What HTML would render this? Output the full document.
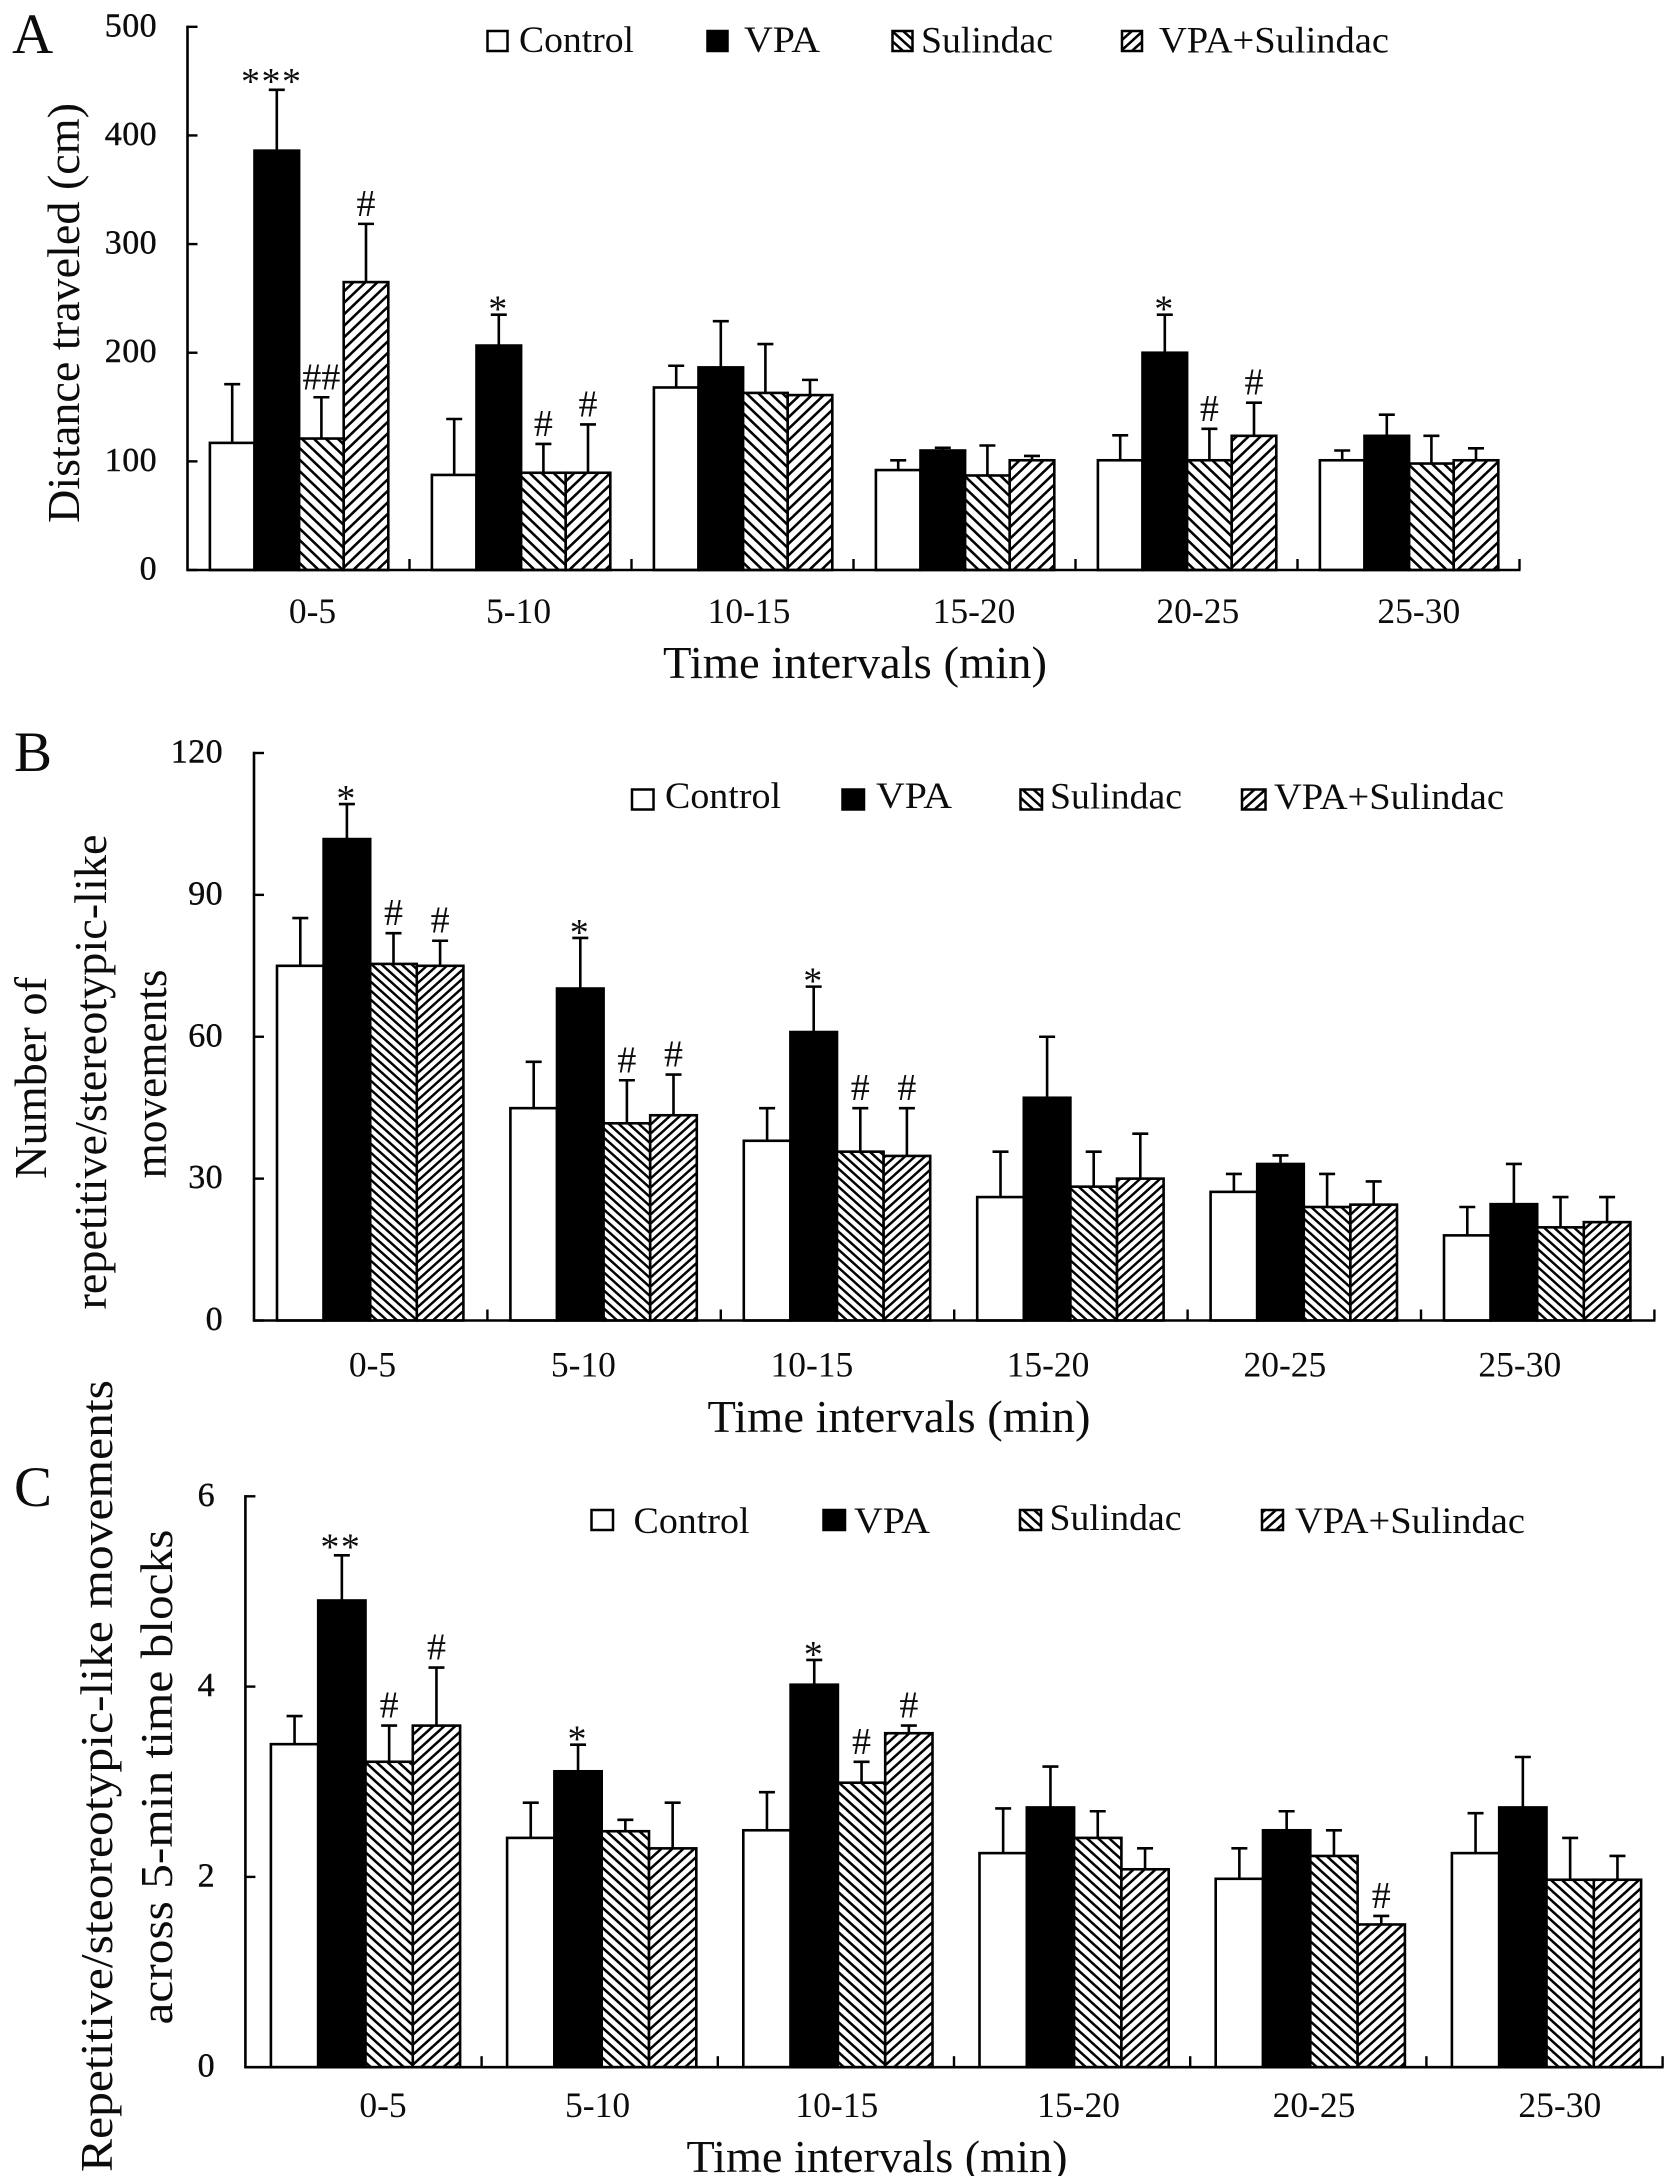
<!DOCTYPE html>
<html lang="en">
<head>
<meta charset="utf-8">
<title>Distance traveled and repetitive movements across time intervals</title>
<style>
  html, body { margin: 0; padding: 0; background: #fff; }
  svg { display: block; }
  text { font-family: "Liberation Serif", "Times New Roman", serif; fill: #0c0c0c; }
</style>
</head>
<body>
<svg id="figure" xmlns="http://www.w3.org/2000/svg" width="1677" height="2176" viewBox="0 0 1677 2176">
  <defs>
    <pattern id="sulA" patternUnits="userSpaceOnUse" width="12" height="11.5"><rect width="12" height="11.5" fill="#fff"/><path d="M-3,-2.875 L15,14.375 M-15,-2.875 L3,14.375 M9,-2.875 L27,14.375" stroke="#000" stroke-width="2.6"/></pattern>
    <pattern id="comA" patternUnits="userSpaceOnUse" width="12" height="11.5"><rect width="12" height="11.5" fill="#fff"/><path d="M-3,14.375 L15,-2.875 M-15,14.375 L3,-2.875 M9,14.375 L27,-2.875" stroke="#000" stroke-width="2.6"/></pattern>
    <pattern id="sulB" patternUnits="userSpaceOnUse" width="10" height="9"><rect width="10" height="9" fill="#fff"/><path d="M-2.5,-2.25 L12.5,11.25 M-12.5,-2.25 L2.5,11.25 M7.5,-2.25 L22.5,11.25" stroke="#000" stroke-width="2.5"/></pattern>
    <pattern id="comB" patternUnits="userSpaceOnUse" width="10" height="9"><rect width="10" height="9" fill="#fff"/><path d="M-2.5,11.25 L12.5,-2.25 M-12.5,11.25 L2.5,-2.25 M7.5,11.25 L22.5,-2.25" stroke="#000" stroke-width="2.5"/></pattern>
    <pattern id="sulC" patternUnits="userSpaceOnUse" width="11" height="10"><rect width="11" height="10" fill="#fff"/><path d="M-2.75,-2.5 L13.75,12.5 M-13.75,-2.5 L2.75,12.5 M8.25,-2.5 L24.75,12.5" stroke="#000" stroke-width="2.5"/></pattern>
    <pattern id="comC" patternUnits="userSpaceOnUse" width="11" height="10"><rect width="11" height="10" fill="#fff"/><path d="M-2.75,12.5 L13.75,-2.5 M-13.75,12.5 L2.75,-2.5 M8.25,12.5 L24.75,-2.5" stroke="#000" stroke-width="2.5"/></pattern>
  </defs>

  <g id="panel-a"></g>
  <g id="panel-b"></g>
  <g id="panel-c"></g>

  <!-- Panel letters -->
  <text x="12" y="53" font-size="57">A</text>
  <text x="14" y="771" font-size="57">B</text>
  <text x="14" y="1506" font-size="57">C</text>

  <!-- Y axis titles -->
  <text transform="translate(79,313) rotate(-90)" text-anchor="middle" font-size="46" textLength="420" lengthAdjust="spacingAndGlyphs">Distance traveled (cm)</text>
  <text transform="translate(46,1078) rotate(-90)" text-anchor="middle" font-size="46" textLength="202" lengthAdjust="spacingAndGlyphs">Number of</text>
  <text transform="translate(106,1072) rotate(-90)" text-anchor="middle" font-size="46" textLength="475" lengthAdjust="spacingAndGlyphs">repetitive/stereotypic-like</text>
  <text transform="translate(166,1074) rotate(-90)" text-anchor="middle" font-size="46" textLength="209" lengthAdjust="spacingAndGlyphs">movements</text>
  <text transform="translate(112,1776) rotate(-90)" text-anchor="middle" font-size="46" textLength="792" lengthAdjust="spacingAndGlyphs">Repetitive/steoreotypic-like movements</text>
  <text transform="translate(172,1777) rotate(-90)" text-anchor="middle" font-size="46" textLength="495" lengthAdjust="spacingAndGlyphs">across 5-min time blocks</text>

  <!-- X axis titles -->
  <text x="855" y="678" text-anchor="middle" font-size="46" textLength="384" lengthAdjust="spacingAndGlyphs">Time intervals (min)</text>
  <text x="899" y="1432" text-anchor="middle" font-size="46" textLength="383" lengthAdjust="spacingAndGlyphs">Time intervals (min)</text>
  <text x="877" y="2172" text-anchor="middle" font-size="46" textLength="381" lengthAdjust="spacingAndGlyphs">Time intervals (min)</text>

  <!-- Legend A -->
  <g font-size="37.5">
    <g><rect x="487.5" y="31" width="20" height="20" fill="#fff" stroke="#000" stroke-width="2.5"/><text x="519" y="52" textLength="115" lengthAdjust="spacingAndGlyphs">Control</text></g>
    <g><rect x="707.5" y="31" width="20" height="20" fill="#000" stroke="#000" stroke-width="2.5"/><text x="744" y="52" textLength="76" lengthAdjust="spacingAndGlyphs">VPA</text></g>
    <g><rect x="892.5" y="31" width="20" height="20" fill="url(#sulC)" stroke="#000" stroke-width="2.5"/><text x="921" y="52.5" textLength="132" lengthAdjust="spacingAndGlyphs">Sulindac</text></g>
    <g><rect x="1122" y="31" width="20" height="20" fill="url(#comC)" stroke="#000" stroke-width="2.5"/><text x="1159" y="52.5" textLength="230" lengthAdjust="spacingAndGlyphs">VPA+Sulindac</text></g>
  </g>
  <!-- Legend B -->
  <g font-size="37.5">
    <g><rect x="632" y="789.5" width="21.5" height="20" fill="#fff" stroke="#000" stroke-width="2.5"/><text x="665" y="808" textLength="116" lengthAdjust="spacingAndGlyphs">Control</text></g>
    <g><rect x="842.5" y="789.5" width="21.5" height="20" fill="#000" stroke="#000" stroke-width="2.5"/><text x="876" y="808" textLength="76" lengthAdjust="spacingAndGlyphs">VPA</text></g>
    <g><rect x="1020.5" y="789.5" width="21.5" height="20" fill="url(#sulC)" stroke="#000" stroke-width="2.5"/><text x="1050" y="808.5" textLength="132" lengthAdjust="spacingAndGlyphs">Sulindac</text></g>
    <g><rect x="1242" y="789.5" width="23.5" height="20" fill="url(#comC)" stroke="#000" stroke-width="2.5"/><text x="1274" y="809" textLength="230" lengthAdjust="spacingAndGlyphs">VPA+Sulindac</text></g>
  </g>
  <!-- Legend C -->
  <g font-size="37.5">
    <g><rect x="591.5" y="1510" width="21.5" height="20" fill="#fff" stroke="#000" stroke-width="2.5"/><text x="633.5" y="1533" textLength="116" lengthAdjust="spacingAndGlyphs">Control</text></g>
    <g><rect x="823.5" y="1510" width="21.5" height="20" fill="#000" stroke="#000" stroke-width="2.5"/><text x="854" y="1533" textLength="76" lengthAdjust="spacingAndGlyphs">VPA</text></g>
    <g><rect x="1020" y="1510" width="21" height="20" fill="url(#sulC)" stroke="#000" stroke-width="2.5"/><text x="1049.5" y="1530" textLength="132" lengthAdjust="spacingAndGlyphs">Sulindac</text></g>
    <g><rect x="1262" y="1510" width="21" height="20" fill="url(#comC)" stroke="#000" stroke-width="2.5"/><text x="1295" y="1533" textLength="230" lengthAdjust="spacingAndGlyphs">VPA+Sulindac</text></g>
  </g>
</svg>

<script>
// ---- Data ----
const categories = ['0-5', '5-10', '10-15', '15-20', '20-25', '25-30'];
const seriesKeys = ['control', 'vpa', 'sulindac', 'vpa-sulindac'];

// Panel A: distance traveled (cm)
const aTicks = [0, 100, 200, 300, 400, 500];
const aControl = [117, 87.5, 168, 92, 101, 101];
const aVpa = [386, 206.6, 186.5, 110, 200, 123.5];
const aSulindac = [121, 89.5, 163, 87, 101, 98];
const aCombo = [265, 89.5, 161, 101, 123.5, 101];
const aControlErr = [54, 51.5, 20, 9, 23, 9];
const aVpaErr = [56, 28.4, 42.5, 2.5, 35, 19.5];
const aSulindacErr = [38, 26.5, 45, 27.6, 29, 25.5];
const aComboErr = [53.6, 44.5, 14, 4, 30.5, 11];
const aNotes = [[0, 1, '***'], [0, 2, '##'], [0, 3, '#'], [1, 1, '*'], [1, 2, '#'], [1, 3, '#'], [4, 1, '*'], [4, 2, '#'], [4, 3, '#']];

// Panel B: number of repetitive/stereotypic-like movements
const bTicks = [0, 30, 60, 90, 120];
const bControl = [75, 44.9, 38, 26.1, 27.2, 18];
const bVpa = [101.8, 70.2, 61, 47.1, 33.1, 24.6];
const bSulindac = [75.4, 41.7, 35.7, 28.3, 24, 19.7];
const bCombo = [75, 43.4, 34.8, 30, 24.5, 20.8];
const bControlErr = [10.1, 9.8, 6.9, 9.6, 3.8, 6];
const bVpaErr = [7.4, 10.7, 9.6, 12.9, 1.8, 8.5];
const bSulindacErr = [6.5, 9.1, 9.2, 7.4, 7, 6.4];
const bComboErr = [5.3, 8.6, 10.1, 9.5, 4.9, 5.3];
const bNotes = [[0, 1, '*'], [0, 2, '#'], [0, 3, '#'], [1, 1, '*'], [1, 2, '#'], [1, 3, '#'], [2, 1, '*'], [2, 2, '#'], [2, 3, '#']];

// Panel C: movements across 5-min time blocks
const cTicks = [0, 2, 4, 6];
const cControl = [3.395, 2.41, 2.49, 2.25, 1.98, 2.25];
const cVpa = [4.905, 3.11, 4.02, 2.73, 2.49, 2.73];
const cSulindac = [3.21, 2.48, 2.99, 2.41, 2.22, 1.97];
const cCombo = [3.59, 2.3, 3.51, 2.08, 1.5, 1.97];
const cControlErr = [0.295, 0.37, 0.4, 0.47, 0.32, 0.42];
const cVpaErr = [0.475, 0.28, 0.26, 0.43, 0.2, 0.53];
const cSulindacErr = [0.38, 0.12, 0.22, 0.28, 0.27, 0.44];
const cComboErr = [0.61, 0.48, 0.08, 0.22, 0.09, 0.25];
const cNotes = [[0, 1, '**'], [0, 2, '#'], [0, 3, '#'], [1, 1, '*'], [2, 1, '*'], [2, 2, '#'], [2, 3, '#'], [4, 3, '#']];

// ---- Drawing ----
const NS = 'http://www.w3.org/2000/svg';
function svgEl(tag, attrs, parent) {
  const el = document.createElementNS(NS, tag);
  for (const k in attrs) el.setAttribute(k, attrs[k]);
  parent.appendChild(el);
  return el;
}

function drawPanel(p) {
  const root = document.getElementById(p.id);
  const yScale = v => p.y0 - (v / p.max) * (p.y0 - p.yTop);
  const xGroup = g => p.x0 + g * p.groupW;
  const xBar = (g, s) => xGroup(g) + p.pad + s * p.barW;
  const fills = ['#fff', '#000', 'url(#sul' + p.hatch + ')', 'url(#com' + p.hatch + ')'];

  // error bars sit behind bars
  p.series.forEach((values, s) => {
    values.forEach((v, g) => {
      const cx = xBar(g, s) + p.barW / 2;
      const yTop = yScale(v + p.errors[s][g]);
      const d = 'M' + cx + ',' + yScale(v) + ' V' + yTop + ' M' + (cx - 8) + ',' + yTop + ' H' + (cx + 8);
      const err = svgEl('path', { d: d, stroke: '#000', 'stroke-width': 2.6, fill: 'none' }, root);
      
      
    });
  });

  // bars
  p.series.forEach((values, s) => {
    values.forEach((v, g) => {
      const bar = svgEl('rect', {
        x: xBar(g, s), y: yScale(v), width: p.barW, height: p.y0 - yScale(v),
        fill: fills[s], stroke: '#000', 'stroke-width': 2.6
      }, root);
      
      
    });
  });

  // axes
  const xEnd = xGroup(categories.length);
  const yAxis = svgEl('line', { x1: p.x0, x2: p.x0, y1: p.yTop - 1.2, y2: p.y0 + 1.2, stroke: '#000', 'stroke-width': 2.6 }, root);
  
  
  const xAxis = svgEl('line', { x1: p.x0, x2: xEnd + 1, y1: p.y0, y2: p.y0, stroke: '#000', 'stroke-width': 2.6 }, root);
  
  

  p.ticks.forEach(t => {
    const y = yScale(t);
    const tick = svgEl('line', { x1: p.x0, x2: p.x0 + 10, y1: y, y2: y, stroke: '#000', 'stroke-width': 2.4 }, root);
    
    
    const label = svgEl('text', { x: p.tickRight, y: y + 9.5, 'text-anchor': 'end', 'font-size': 34, 'letter-spacing': 0.4, stroke: '#0c0c0c', 'stroke-width': 0.4 }, root);
    label.textContent = t;
    
    
  });

  categories.forEach((c, g) => {
    const tick = svgEl('line', { x1: xGroup(g + 1), x2: xGroup(g + 1), y1: p.y0, y2: p.y0 - 11, stroke: '#000', 'stroke-width': 2.4 }, root);
    
    
    const label = svgEl('text', { x: xGroup(g) + p.groupW / 2 + p.labelShift[g], y: p.labelY, 'text-anchor': 'middle', 'font-size': 35.5 }, root);
    label.textContent = c;
    
    
  });

  // significance marks
  p.notes.forEach(n => {
    const g = n[0], s = n[1], mark = n[2];
    const top = yScale(p.series[s][g] + p.errors[s][g]);
    const isStar = mark.charAt(0) === '*';
    const note = svgEl('text', {
      x: xBar(g, s) + p.barW / 2 + (mark.length > 2 ? -5 : (isStar ? -1 : 0)),
      y: isStar ? top + (mark.length > 1 ? 4 : 7) : top - 8,
      'text-anchor': 'middle',
      'font-size': isStar ? 38 : 38,
      'letter-spacing': isStar && mark.length > 1 ? 1.5 : 0
    }, root);
    note.textContent = mark;
    
    
  });
}

drawPanel({
  id: 'panel-a', hatch: 'A', max: 500, ticks: aTicks,
  x0: 187.5, groupW: 222, pad: 22.4, barW: 44.6, y0: 570, yTop: 26.8,
  tickRight: 157, labelY: 623, labelShift: [14, -1.9, 6.5, 9.5, 11.3, 10.3],
  series: [aControl, aVpa, aSulindac, aCombo],
  errors: [aControlErr, aVpaErr, aSulindacErr, aComboErr],
  notes: aNotes
});
drawPanel({
  id: 'panel-b', hatch: 'B', max: 120, ticks: bTicks,
  x0: 254, groupW: 233.4, pad: 23, barW: 46.6, y0: 1320.5, yTop: 753,
  tickRight: 223, labelY: 1376.5, labelShift: [1.8, -20.7, -25.6, -22.9, -19.4, -17.9],
  series: [bControl, bVpa, bSulindac, bCombo],
  errors: [bControlErr, bVpaErr, bSulindacErr, bComboErr],
  notes: bNotes
});
drawPanel({
  id: 'panel-c', hatch: 'C', max: 6, ticks: cTicks,
  x0: 245.4, groupW: 236.2, pad: 25.5, barW: 47.3, y0: 2067.2, yTop: 1496.3,
  tickRight: 215, labelY: 2117, labelShift: [19.5, -2.1, 0.9, 6.5, 5.7, 15.3],
  series: [cControl, cVpa, cSulindac, cCombo],
  errors: [cControlErr, cVpaErr, cSulindacErr, cComboErr],
  notes: cNotes
});
</script>
</body>
</html>
